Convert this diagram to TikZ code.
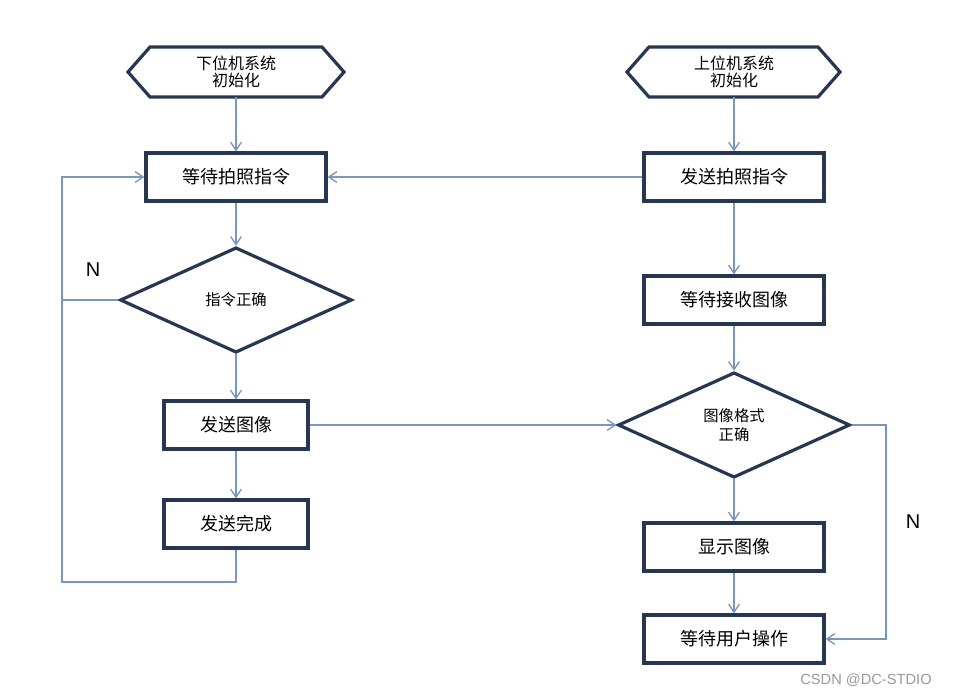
\documentclass[tikz,border=0pt]{standalone}
\usepackage{fontspec}
\setmainfont{Liberation Sans}
\newfontfamily\cjk{Noto Sans CJK SC}
\usetikzlibrary{shapes.geometric,arrows.meta}
\definecolor{boxline}{RGB}{40,55,80}
\definecolor{flowline}{RGB}{120,150,190}
\tikzset{every picture/.style={line width=0.75pt}}
\tikzset{
	procbox/.style={draw=boxline,line width=2.4pt,fill=white,minimum width=135pt,minimum height=36pt,font=\cjk\fontsize{13.5}{15}\selectfont},
	check/.style={draw=boxline,line width=2.4pt,fill=white,diamond,aspect=2.2,inner sep=0pt,minimum width=174pt,minimum height=79pt,font=\cjk\fontsize{11.5}{14}\selectfont,align=center},
	flow/.style={draw=flowline,line width=1pt,-{Straight Barb[length=6pt,width=8pt]}},
	link/.style={draw=flowline,line width=1pt}}
\begin{document}
\begin{tikzpicture}[x=0.75pt,y=0.75pt,yscale=-1,xscale=1]
		\useasboundingbox (0,0) rectangle (962,697);

		% start shapes
		\draw [boxline,line width=2.4pt,fill=white] (128,72) -- (150,47) -- (322,47) -- (344,72) -- (322,97) -- (150,97) -- cycle;
		\node (initL) at (236,72) [font=\cjk\fontsize{12}{13}\selectfont,align=center] {下位机系统\\初始化};
		\draw [boxline,line width=2.4pt,fill=white] (627,72) -- (649,47) -- (818,47) -- (840,72) -- (818,97) -- (649,97) -- cycle;
		\node (initR) at (734,72) [font=\cjk\fontsize{12}{13}\selectfont,align=center] {上位机系统\\初始化};
		\coordinate (initLb) at (236,97);
		\coordinate (initRb) at (734,97);

		% left column
		\node [procbox] (waitCmd) at (236,177) {等待拍照指令};
		\node [check] (cmdOk) at (236,300) {指令正确};
		\node [procbox,minimum width=108pt] (sendImg) at (236,425) {发送图像};
		\node [procbox,minimum width=108pt] (sendDone) at (236,524) {发送完成};

		% right column
		\node [procbox] (sendCmd) at (734,177) {发送拍照指令};
		\node [procbox] (waitImg) at (734,300) {等待接收图像};
		\node [check] (fmtOk) at (734,425) {图像格式\\正确};
		\node [procbox] (showImg) at (734,547) {显示图像};
		\node [procbox] (waitUser) at (734,639) {等待用户操作};

		\coordinate (loopB) at (236,582);
		\coordinate (loopL) at (62,582);
		\coordinate (loopM) at (62,300);
		\coordinate (noR) at (886,425);

		% connectors
		\draw [flow] (initLb) -- (waitCmd);
		\draw [flow] (waitCmd) -- (cmdOk);
		\draw [flow] (cmdOk) -- (sendImg);
		\draw [flow] (sendImg) -- (sendDone);
		\draw [flow] (sendDone.south) -- (loopB) -- (loopL) |- (waitCmd.west);
		\draw [link] (cmdOk.west) -- (loopM);
		\draw [flow] (initRb) -- (sendCmd);
		\draw [flow] (sendCmd) -- (waitCmd);
		\draw [flow] (sendCmd) -- (waitImg);
		\draw [flow] (waitImg) -- (fmtOk);
		\draw [flow] (sendImg) -- (fmtOk.west);
		\draw [flow] (fmtOk) -- (showImg);
		\draw [flow] (showImg) -- (waitUser);
		\draw [flow] (fmtOk.east) -- (noR) |- (waitUser.east);

		% Text Node
		\node (noL) at (93,270) {\fontsize{15}{17}\selectfont N};
		\node (noRt) at (913,522) {\fontsize{15}{17}\selectfont N};
		\node (mark) at (866,680) [text=gray!80] {\fontsize{11}{13}\selectfont CSDN @DC-STDIO};
\end{tikzpicture}
\end{document}
